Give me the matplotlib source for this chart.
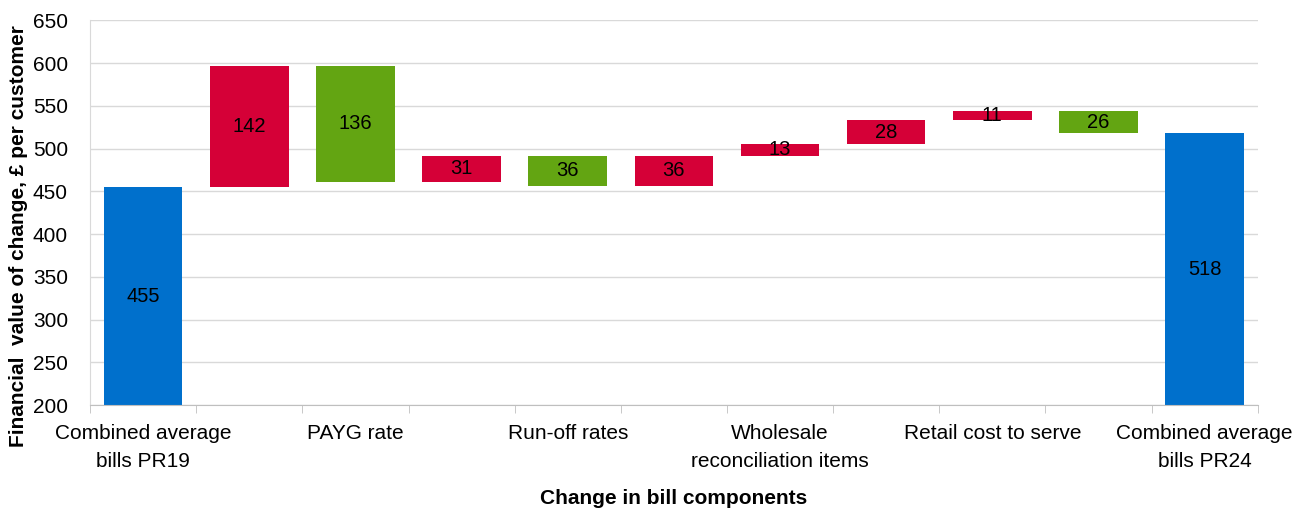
import numpy as np
import matplotlib.pyplot as plt

plt.rcParams['font.family'] = ['Liberation Sans', 'DejaVu Sans']

# tick labels (Excel skips every other one)
labels = ['Combined average\nbills PR19', '', 'PAYG rate', '', 'Run-off rates', '',
          'Wholesale\nreconciliation items', '', 'Retail cost to serve', '',
          'Combined average\nbills PR24']
start_total = 455
changes = [142, -136, 31, -36, 36, 13, 28, 11, -26]
end_total = 518
y_floor = 200

blue = '#0070CC'
red = '#D50037'
green = '#63A512'

fig, ax = plt.subplots(figsize=(13.06, 5.11), dpi=100)
fig.subplots_adjust(left=0.069, right=0.963, top=0.96, bottom=0.207)

n = len(labels)
x = np.arange(n)
w = 0.74

# totals
for xi, val in [(0, start_total), (n - 1, end_total)]:
    ax.bar(xi, val - y_floor, bottom=y_floor, width=w, color=blue, zorder=2)
    ax.text(xi, (val + y_floor) / 2, str(val), ha='center', va='center', fontsize=14.5, zorder=3)

# changes
level = start_total
for i, c in enumerate(changes):
    xi = i + 1
    lo = min(level, level + c)
    col = red if c > 0 else green
    ax.bar(xi, abs(c), bottom=lo, width=w, color=col, zorder=2)
    ax.text(xi, lo + abs(c) / 2, str(abs(c)), ha='center', va='center', fontsize=14.5, zorder=3)
    level += c

ax.set_xlim(-0.5, n - 0.5)
ax.set_ylim(200, 650)
ax.set_yticks(np.arange(200, 651, 50))
ax.yaxis.grid(True, color='#D9D9D9', linewidth=1, zorder=0)
ax.set_axisbelow(True)

ax.set_xticks(x)
ax.set_xticklabels(labels, fontsize=15, linespacing=1.62)
ax.set_xticks(np.arange(-0.5, n, 1), minor=True)
ax.tick_params(axis='x', which='major', length=0, pad=13.5)
ax.tick_params(axis='x', which='minor', length=6, color='#BFBFBF')
ax.tick_params(axis='y', length=0, labelsize=15, pad=16)

for s in ['top', 'right']:
    ax.spines[s].set_visible(False)
ax.spines['left'].set_color('#D9D9D9')
ax.spines['bottom'].set_color('#BFBFBF')

ax.set_ylabel('Financial  value of change, £ per customer', fontsize=15, fontweight='bold')
ax.yaxis.set_label_coords(-0.053, 0.44)
ax.set_xlabel('Change in bill components', fontsize=15, fontweight='bold', labelpad=13)

fig.savefig('out.png')
